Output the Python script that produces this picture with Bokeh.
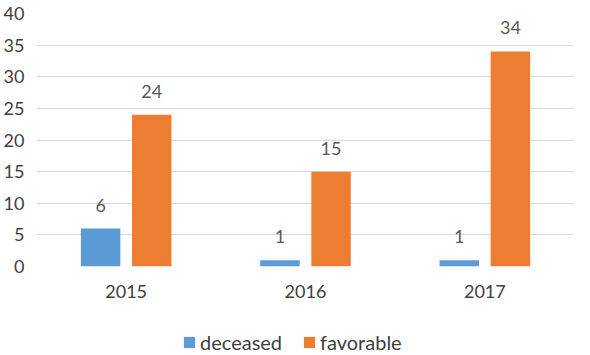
from bokeh.plotting import figure
from bokeh.layouts import column
from bokeh.models import ColumnDataSource, Legend, LegendItem, FixedTicker
from bokeh.transform import dodge
from bokeh.core.properties import value
from bokeh.embed import file_html
from bokeh.resources import INLINE

years = ["2015", "2016", "2017"]
deceased = [6, 1, 1]
favorable = [24, 15, 34]
series = ["deceased", "favorable"]
y_ticks = [0, 5, 10, 15, 20, 25, 30, 35, 40]

FONT = "Lato"
BLUE = "#5b9bd5"
ORANGE = "#ed7d31"

src = ColumnDataSource(data=dict(
    years=years,
    deceased=deceased,
    favorable=favorable,
    dlab=[str(v) for v in deceased],
    flab=[str(v) for v in favorable],
))

p = figure(x_range=years, y_range=(0, 40), width=574, height=310,
           output_backend="svg", toolbar_location=None,
           min_border_left=24, min_border_right=0, min_border_top=13,
           min_border_bottom=44)

p.vbar(x=dodge("years", -0.1425, range=p.x_range), top="deceased", width=0.22,
       source=src, color=BLUE, line_color=None)
p.vbar(x=dodge("years", 0.1425, range=p.x_range), top="favorable", width=0.22,
       source=src, color=ORANGE, line_color=None)

for col, lab, off in (("deceased", "dlab", -0.1425), ("favorable", "flab", 0.1425)):
    p.text(x=dodge("years", off, range=p.x_range), y=col, text=lab, source=src,
           text_align="center", text_baseline="bottom", y_offset=-17,
           text_font=value(FONT), text_font_size="18px", text_color="#595959")

p.yaxis.ticker = FixedTicker(ticks=y_ticks)
for ax in (p.xaxis, p.yaxis):
    ax.axis_line_color = None
    ax.major_tick_line_color = None
    ax.minor_tick_line_color = None
    ax.major_label_text_font = FONT
    ax.major_label_text_font_size = "18px"
    ax.major_label_text_color = "#404040"
p.xaxis.major_label_standoff = 12
p.yaxis.major_label_standoff = 6

p.xgrid.grid_line_color = None
p.ygrid.grid_line_color = "#d9d9d9"
p.ygrid.grid_line_width = 1
p.outline_line_color = None

# legend-only strip below the chart (its bars fall outside its y range)
lg = figure(x_range=years, y_range=(100, 200), width=574, height=45,
            output_backend="svg", toolbar_location=None,
            x_axis_location=None, y_axis_location=None,
            min_border_left=0, min_border_right=0, min_border_top=0,
            min_border_bottom=0)
lr1 = lg.vbar(x="years", top="deceased", width=0.2, source=src, color=BLUE, line_color=None)
lr2 = lg.vbar(x="years", top="favorable", width=0.2, source=src, color=ORANGE, line_color=None)
lg.grid.grid_line_color = None
lg.outline_line_color = None

legend = Legend(items=[LegendItem(label=series[0], renderers=[lr1]),
                       LegendItem(label=series[1], renderers=[lr2])],
                orientation="horizontal", location=(146, 1),
                label_text_font=FONT, label_text_font_size="20px",
                label_text_color="#404040", glyph_width=14, glyph_height=14,
                label_standoff=4, spacing=20, padding=0, margin=0,
                border_line_color=None, background_fill_alpha=0)
lg.add_layout(legend)

layout = column(p, lg, spacing=0)
open("out.html", "w").write(file_html(layout, INLINE))
